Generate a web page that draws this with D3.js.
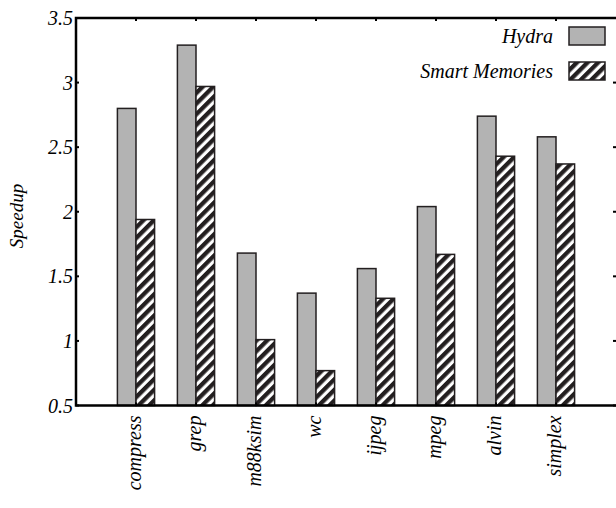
<!DOCTYPE html>
<html><head><meta charset="utf-8">
<script src="https://cdn.jsdelivr.net/npm/d3@7"></script>
<style>body{margin:0;background:#fff}svg{display:block}</style>
</head><body><svg id="c" width="616" height="508"></svg>
<script>
const categories = ["compress","grep","m88ksim","wc","ijpeg","mpeg","alvin","simplex"];
const hydra = [2.80,3.29,1.68,1.37,1.56,2.04,2.74,2.58];
const smartMemories = [1.94,2.97,1.01,0.77,1.33,1.67,2.43,2.37];
const seriesNames = ["Hydra","Smart Memories"];
const yTicks = [0.5,1,1.5,2,2.5,3,3.5];

const svg = d3.select("#c");
const L = 76, R = 616, T = 18, B = 405.5;
const x = d3.scaleLinear().domain([0, categories.length + 1]).range([L, R]);
const y = d3.scaleLinear().domain([0.5, 3.5]).range([B, T]);
const bw = 0.31;

// text first, exactly like the working font test
yTicks.forEach(d => {
  svg.append("text").attr("x", L - 3).attr("y", y(d) + 7)
    .attr("font-family", "Times New Roman").attr("font-style", "italic").attr("font-size", 20)
    .attr("text-anchor", "end").text(String(d));
});
categories.forEach((c, i) => {
  svg.append("text").attr("x", 0).attr("y", 0)
    .attr("transform", `translate(${x(i + 1) + 5},${B + 10}) rotate(-90)`)
    .attr("font-family", "Times New Roman").attr("font-style", "italic").attr("font-size", 20)
    .attr("text-anchor", "end").text(c);
});
svg.append("text").attr("x", 0).attr("y", 0)
  .attr("transform", `translate(23,216) rotate(-90)`)
  .attr("font-family", "Times New Roman").attr("font-style", "italic").attr("font-size", 19)
  .attr("text-anchor", "middle").text("Speedup");
seriesNames.forEach((n, i) => {
  svg.append("text").attr("x", 553).attr("y", 43 + i * 35)
    .attr("font-family", "Times New Roman").attr("font-style", "italic").attr("font-size", 20)
    .attr("text-anchor", "end").text(n);
});

const defs = svg.append("defs");
const pat = defs.append("pattern").attr("id","hatch").attr("patternUnits","userSpaceOnUse")
  .attr("width",7.5).attr("height",7.5).attr("patternTransform","rotate(45)");
pat.append("rect").attr("width",7.5).attr("height",7.5).attr("fill","#fff");
pat.append("rect").attr("width",4.3).attr("height",7.5).attr("fill","#231f20");

categories.forEach((c,i)=>{
  const cx = i + 1;
  svg.append("rect").attr("x", x(cx - bw)).attr("width", x(bw) - x(0))
    .attr("y", y(hydra[i])).attr("height", B - y(hydra[i]))
    .attr("fill","#b3b3b3").attr("stroke","#231f20").attr("stroke-width",1.5);
  svg.append("rect").attr("x", x(cx)).attr("width", x(bw) - x(0))
    .attr("y", y(smartMemories[i])).attr("height", B - y(smartMemories[i]))
    .attr("fill","url(#hatch)").attr("stroke","#231f20").attr("stroke-width",1.5);
});
seriesNames.forEach((n, i) => {
  svg.append("rect").attr("x", 569).attr("y", 27 + i * 35).attr("width", 36).attr("height", 18)
    .attr("fill", i === 0 ? "#b3b3b3" : "url(#hatch)").attr("stroke", "#231f20").attr("stroke-width", 1.5);
});

// tick marks via scales (drawn as lines)
const catTicks = categories.map((c,i)=>i+1);
yTicks.forEach(d => {
  svg.append("line").attr("x1", L).attr("x2", L + 3).attr("y1", y(d)).attr("y2", y(d)).attr("stroke", "#000").attr("stroke-width", 2);
  svg.append("line").attr("x1", R - 3).attr("x2", R).attr("y1", y(d)).attr("y2", y(d)).attr("stroke", "#000").attr("stroke-width", 2);
});
catTicks.forEach(d => {
  svg.append("line").attr("x1", x(d)).attr("x2", x(d)).attr("y1", T).attr("y2", T + 3).attr("stroke", "#000").attr("stroke-width", 2);
  svg.append("line").attr("x1", x(d)).attr("x2", x(d)).attr("y1", B - 3).attr("y2", B).attr("stroke", "#000").attr("stroke-width", 2);
});
svg.append("path").attr("d",`M${R+2},${T}H${L}V${B}H${R+2}`)
  .attr("fill","none").attr("stroke","#000").attr("stroke-width",2.5);
</script></body></html>
